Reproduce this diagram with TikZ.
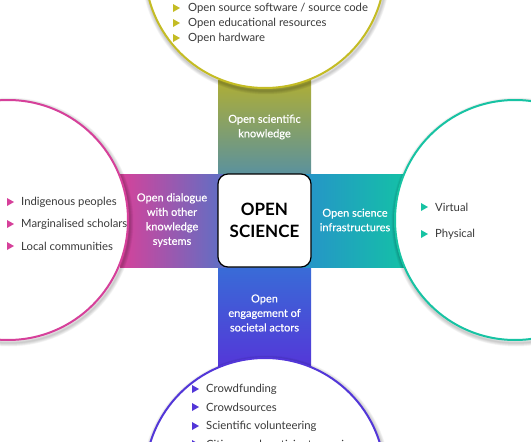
\documentclass[tikz,border=0pt]{standalone}
\usepackage{fontspec}
\setmainfont{Lato}
\usetikzlibrary{calc}
\definecolor{topc}{HTML}{C4BC24}
\definecolor{leftc}{HTML}{D6409A}
\definecolor{rightc}{HTML}{17C3A3}
\definecolor{botc}{HTML}{5236D8}
\definecolor{bandtop}{HTML}{AFAE35}
\definecolor{bandmid}{HTML}{2D82D6}
\definecolor{bandbot}{HTML}{5535D8}
\definecolor{bandleft}{HTML}{D6429A}
\definecolor{bandright}{HTML}{13C3A5}
\definecolor{itemc}{HTML}{3A3A3A}
\begin{document}
\begin{tikzpicture}[x=1pt,y=-1pt,
  item/.style={anchor=west,inner sep=0,text=itemc,font=\fontsize{11.3}{13}\selectfont},
  bandtext/.style={align=center,text=white,font=\fontsize{11}{14.5}\selectfont\addfontfeature{FakeBold=0.5}},
  ring/.style={line width=2pt,fill=white}]
 \useasboundingbox (0,0) rectangle (531,442);
 \clip (0,0) rectangle (531,442);

 %centers of circles
 \coordinate (T) at (265,-32);
 \coordinate (L) at (8,220);
 \coordinate (R) at (515,220);
 \coordinate (B) at (265,478);

 %bands
 \shade [top color=bandtop, bottom color=bandbot, middle color=bandmid] (218,80) rectangle (311,370);
 \shade [left color=bandleft, right color=bandright, middle color=bandmid] (120,174) rectangle (410,267);

 %soft shadow of circles
 \foreach \c in {T,L,R,B}
  \foreach \k in {1,...,7}
   \draw [black, opacity=0.03, line width=\k pt] ($(\c)+(1,2)$) circle (121);

 %circles
 \filldraw [ring, draw=topc] (T) circle (120);
 \filldraw [ring, draw=leftc] (L) circle (120);
 \filldraw [ring, draw=rightc] (R) circle (120);
 \filldraw [ring, draw=botc] (B) circle (120);

 %center box
 \node [draw, fill=white, line width=1.2pt, rounded corners=10pt, minimum size=93pt, align=center,
   font=\fontsize{17}{22}\bfseries\selectfont] (OS) at (264.5,220.5) {OPEN\\SCIENCE};

 %band labels
 \node [bandtext] (K) at (264.5,127) {Open scientific\\knowledge};
 \node [bandtext] (D) at (172,220) {Open dialogue\\with other\\knowledge\\systems};
 \node [bandtext] (I) at (355,220) {Open science\\infrastructures};
 \node [bandtext] (E) at (264.5,313) {Open\\engagement of\\societal actors};

 %top list
 \fill [topc] (173,4) -- (180,8) -- (173,12) -- cycle;
 \fill [topc] (173,19) -- (180,23) -- (173,27) -- cycle;
 \fill [topc] (173,34) -- (180,38) -- (173,42) -- cycle;
 \node [item] (t1) at (188,8) {Open source software / source code};
 \node [item] (t2) at (188,23) {Open educational resources};
 \node [item] (t3) at (188,38) {Open hardware};

 %left list
 \fill [leftc] (7,198) -- (14,202) -- (7,206) -- cycle;
 \fill [leftc] (7,220) -- (14,224) -- (7,228) -- cycle;
 \fill [leftc] (7,242) -- (14,246) -- (7,250) -- cycle;
 \node [item] (l1) at (21,202) {Indigenous peoples};
 \node [item] (l2) at (21,224) {Marginalised scholars};
 \node [item] (l3) at (21,246) {Local communities};

 %right list
 \fill [rightc] (421,203) -- (428,207) -- (421,211) -- cycle;
 \fill [rightc] (421,230) -- (428,234) -- (421,238) -- cycle;
 \node [item] (r1) at (435,207) {Virtual};
 \node [item] (r2) at (435,234) {Physical};

 %bottom list
 \fill [botc] (192,385) -- (199,389) -- (192,393) -- cycle;
 \fill [botc] (192,403) -- (199,407) -- (192,411) -- cycle;
 \fill [botc] (192,422) -- (199,426) -- (192,430) -- cycle;
 \fill [botc] (192,440) -- (199,444) -- (192,448) -- cycle;
 \node [item] (b1) at (206,389) {Crowdfunding};
 \node [item] (b2) at (206,407) {Crowdsources};
 \node [item] (b3) at (206,426) {Scientific volunteering};
 \node [item] (b4) at (206,445) {Citizen and participatory science};
\end{tikzpicture}
\end{document}
